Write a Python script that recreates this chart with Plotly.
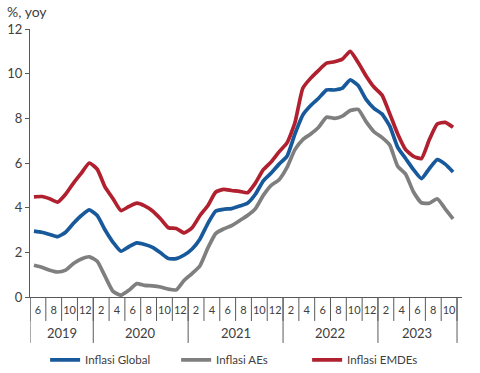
import plotly.graph_objects as go

# Monthly data, May 2019 .. Oct 2023 (54 months)
inflasi_global = [2.95, 2.9, 2.8, 2.7, 2.9, 3.3, 3.65, 3.9,
                  3.65, 3.0, 2.45, 2.05, 2.25, 2.42, 2.35, 2.22, 1.98, 1.72, 1.72, 1.88,
                  2.15, 2.6, 3.3, 3.85, 3.93, 3.96, 4.07, 4.2, 4.6, 5.2, 5.55, 5.95,
                  6.3, 7.3, 8.15, 8.57, 8.9, 9.27, 9.27, 9.35, 9.72, 9.47, 8.85, 8.45,
                  8.2, 7.65, 6.7, 6.2, 5.7, 5.3, 5.75, 6.15, 5.95, 5.6]
inflasi_aes = [1.42, 1.33, 1.2, 1.12, 1.2, 1.5, 1.7, 1.8,
               1.6, 0.92, 0.25, 0.08, 0.3, 0.6, 0.52, 0.5, 0.45, 0.35, 0.32, 0.75,
               1.05, 1.4, 2.2, 2.85, 3.05, 3.2, 3.42, 3.65, 3.95, 4.55, 5.0, 5.25,
               5.8, 6.6, 7.05, 7.3, 7.6, 8.05, 8.0, 8.1, 8.35, 8.4, 7.85, 7.4,
               7.15, 6.8, 5.85, 5.5, 4.7, 4.22, 4.2, 4.4, 3.95, 3.5]
inflasi_emdes = [4.48, 4.5, 4.4, 4.25, 4.6, 5.1, 5.55, 6.0,
                 5.72, 4.92, 4.4, 3.87, 4.05, 4.2, 4.08, 3.85, 3.5, 3.1, 3.07, 2.87,
                 3.1, 3.65, 4.1, 4.7, 4.82, 4.77, 4.73, 4.67, 5.1, 5.7, 6.05, 6.5,
                 6.9, 7.8, 9.35, 9.8, 10.15, 10.47, 10.53, 10.65, 11.0, 10.5, 9.9, 9.4,
                 9.05, 8.2, 7.3, 6.6, 6.3, 6.2, 7.05, 7.75, 7.82, 7.6]

month_labels = ["6", "8", "10", "12",
                "2", "4", "6", "8", "10", "12",
                "2", "4", "6", "8", "10", "12",
                "2", "4", "6", "8", "10", "12",
                "2", "4", "6", "8", "10"]
years = ["2019", "2020", "2021", "2022", "2023"]
months_per_year = [8, 12, 12, 12, 10]

series_names = ["Inflasi Global", "Inflasi AEs", "Inflasi EMDEs"]
colors = ["#17599B", "#7F7F7F", "#B0202E"]

n = len(inflasi_global)
x = [i + 0.5 for i in range(n)]

fig = go.Figure()
for name, vals, col in zip(series_names, [inflasi_global, inflasi_aes, inflasi_emdes], colors):
    fig.add_trace(go.Scatter(x=x, y=vals, mode="lines", name=name,
                             line=dict(color=col, width=3.7, shape="spline", smoothing=0.5)))

# geometry helpers
plot_h = 373 - 28.5 - 76
def py(px_below):
    return -px_below / plot_h

axis_col = "#595959"
txt_col = "#404040"

# month tick labels at cell centres (cells of 2 months)
tickvals = [2 * k + 1 for k in range(len(month_labels))]

shapes = []
# small separators at every 2-month boundary
for k in range(len(month_labels) + 1):
    shapes.append(dict(type="line", xref="x", yref="paper", x0=2 * k, x1=2 * k,
                       y0=0, y1=py(24), line=dict(color=axis_col, width=1)))
# year separators
bounds = [0]
for m in months_per_year:
    bounds.append(bounds[-1] + m)
for b in bounds:
    shapes.append(dict(type="line", xref="x", yref="paper", x0=b, x1=b,
                       y0=0, y1=py(46), line=dict(color=axis_col, width=1)))

annotations = []
for yr, a, b in zip(years, bounds[:-1], bounds[1:]):
    annotations.append(dict(x=(a + b) / 2, y=py(36.5), xref="x", yref="paper",
                            text=yr, showarrow=False, xanchor="center", yanchor="middle",
                            font=dict(family="Lato", size=13, color=txt_col)))
annotations.append(dict(x=0, y=1, xref="paper", yref="paper", xshift=-25, yshift=7,
                        text="%, yoy", showarrow=False, xanchor="left", yanchor="bottom",
                        font=dict(family="Lato", size=14, color=txt_col)))

fig.update_layout(
    width=480, height=373,
    margin=dict(l=30, r=18.3, t=28.5, b=76, autoexpand=False),
    paper_bgcolor="white", plot_bgcolor="white",
    font=dict(family="Lato", color=txt_col),
    showlegend=True,
    legend=dict(orientation="h", x=0.035, xanchor="left", y=py(63), yanchor="middle",
                font=dict(family="Lato", size=11.5, color=txt_col),
                entrywidth=86, entrywidthmode="pixels", bgcolor="rgba(0,0,0,0)"),
    shapes=shapes,
    annotations=annotations,
    xaxis=dict(range=[0, 54.63], showgrid=False, zeroline=False, automargin=False,
               showline=True, linecolor=axis_col, linewidth=1,
               tickmode="array", tickvals=tickvals, ticktext=month_labels,
               ticks="", tickfont=dict(family="Lato", size=11, color=txt_col),
               ticklabelstandoff=3),
    yaxis=dict(range=[0, 12], tickvals=[0, 2, 4, 6, 8, 10, 12], showgrid=False,
               zeroline=False, showline=True, linecolor=axis_col, linewidth=1,
               automargin=False,
               ticks="outside", ticklen=4, tickcolor=axis_col,
               tickfont=dict(family="Lato", size=13, color=txt_col)),
)

fig.write_html("out.html", config={"displayModeBar": False},
               post_script="document.body.style.margin='0px';document.body.style.padding='0px';")
